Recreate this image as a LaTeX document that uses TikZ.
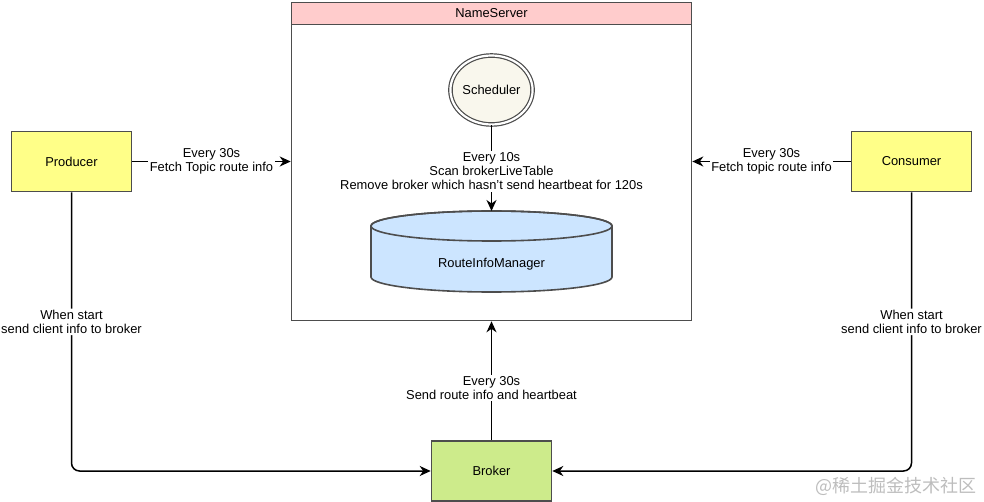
\documentclass[tikz,border=0pt]{standalone}
\usepackage{fontspec}
\setmainfont{Liberation Sans}
\newfontfamily\cjkfont{Noto Sans CJK SC}
\usetikzlibrary{arrows.meta,shapes.geometric}

\definecolor{clientfill}{HTML}{FFFF88}
\definecolor{brokerfill}{HTML}{CDEB8B}
\definecolor{headfill}{HTML}{FFCCCC}
\definecolor{dbfill}{HTML}{CCE5FF}
\definecolor{schedfill}{HTML}{F9F7ED}
\definecolor{boxline}{HTML}{4D4D4D}
\definecolor{wmgray}{HTML}{BDBDBD}

\begin{document}
\begin{tikzpicture}[x=1pt,y=-1pt,font=\fontsize{12.9}{14}\selectfont,
  box/.style={draw=boxline,line width=1.6pt,minimum width=120pt,minimum height=60pt,inner sep=0pt},
  lbl/.style={fill=white,align=center,inner sep=1.5pt},
  link/.style={line width=1.5pt,-{Stealth[length=11pt,width=10pt,inset=3.5pt]}}]
\useasboundingbox (0,0) rectangle (984,502);

% NameServer frame and title bar
\node (ns) [draw=boxline,line width=1.6pt,minimum width=400pt,minimum height=318pt] at (491.5,161.5) {};
\node (nshead) [draw=boxline,line width=1.6pt,fill=headfill,minimum width=400pt,minimum height=22pt,anchor=north] at (ns.north) {NameServer};

% scheduler
\node (sched) [ellipse,draw=boxline,line width=1.2pt,double,double distance=2.2pt,fill=schedfill,
  minimum width=76pt,minimum height=69pt,inner sep=0pt] at (491.5,90) {Scheduler};

% route info store
\filldraw[fill=dbfill,draw=boxline,line width=1.6pt] (371,226) -- (371,277)
  arc[start angle=180,end angle=0,x radius=120.5,y radius=15] -- (612,226)
  arc[start angle=0,end angle=-180,x radius=120.5,y radius=15] -- cycle;
\draw[boxline,line width=1.6pt] (491.5,226) ellipse[x radius=120.5,y radius=15];
\node (rim) [coordinate] at (491.5,211) {};
\node (db) at (491.5,264) {RouteInfoManager};

% clients and broker
\node (prod) [box,fill=clientfill] at (71.5,161.5) {Producer};
\node (cons) [box,fill=clientfill] at (911.5,161.5) {Consumer};
\node (broker) [box,fill=brokerfill] at (491.5,471) {Broker};

% connectors
\draw[link] (sched) -- node[lbl,pos=0.54] {Every 10s\\Scan brokerLiveTable\\Remove broker which hasn't send heartbeat for 120s} (rim);
\draw[link] (prod) -- node[lbl] {Every 30s\\Fetch Topic route info} (ns.west |- prod);
\draw[link] (cons) -- node[lbl] {Every 30s\\Fetch topic route info} (ns.east |- cons);
\draw[link] (broker) -- node[lbl,pos=0.44] {Every 30s\\Send route info and heartbeat} (ns.south);
\draw[link,rounded corners=8pt] (prod) -- node[lbl,pos=0.465] {When start\\send client info to broker} (prod |- broker) -- (broker);
\draw[link,rounded corners=8pt] (cons) -- node[lbl,pos=0.465] {When start\\send client info to broker} (cons |- broker) -- (broker);

% watermark
\node (wmtext) [text=wmgray,font=\cjkfont\fontsize{18}{20}\selectfont,anchor=east,inner sep=0pt] at (977,486) {@稀土掘金技术社区};
\end{tikzpicture}
\end{document}
